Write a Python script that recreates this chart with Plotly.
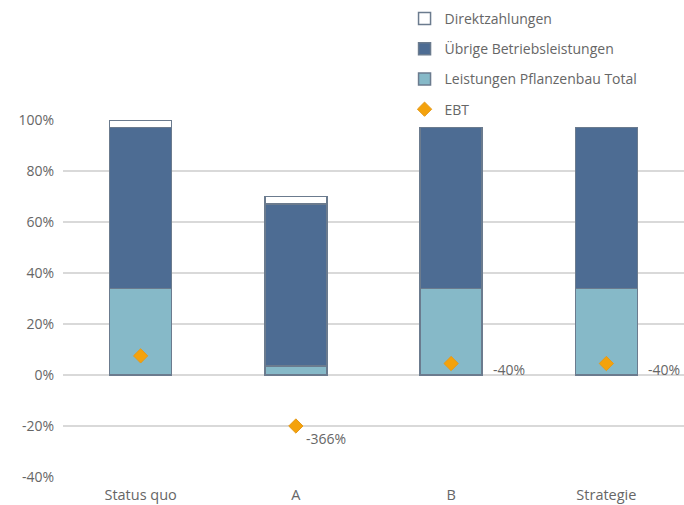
import plotly.graph_objects as go

categories = ["Status quo", "A", "B", "Strategie"]
pflanzenbau = [34, 3.5, 34, 34]
uebrige = [63, 63.5, 63, 63]
direkt = [3, 3, None, None]
ebt = [7.5, -20, 4.5, 4.5]
ebt_labels = ["", "-366%", "-40%", "-40%"]
y_ticks = [-40, -20, 0, 20, 40, 60, 80, 100]
y_ticklabels = [f"{v}%" for v in y_ticks]

FONT = "Open Sans"
GREY = "#666666"
EDGE = "#6b7b8e"

fig = go.Figure()
fig.add_bar(x=categories, y=pflanzenbau, name="Leistungen Pflanzenbau Total",
            marker=dict(color="#86b9c8", line=dict(color=EDGE, width=1.5)),
            legendrank=3, legendgroup="c")
fig.add_bar(x=categories, y=uebrige, name="Übrige Betriebsleistungen",
            marker=dict(color="#4d6c93", line=dict(color=EDGE, width=1.5)),
            legendrank=2, legendgroup="b")
fig.add_bar(x=categories, y=direkt, name="Direktzahlungen",
            marker=dict(color="#ffffff", line=dict(color=EDGE, width=1.5)),
            legendrank=1, legendgroup="a")
fig.add_scatter(x=categories, y=ebt, mode="markers", name="EBT",
                marker=dict(symbol="diamond", color="#f4a20c", size=11,
                            line=dict(color="#e59a1a", width=1)),
                legendrank=4, legendgroup="d")

offsets = {"A": (8, -12), "B": (40, -6), "Strategie": (40, -6)}
for c, v, t in zip(categories, ebt, ebt_labels):
    if t:
        dx, dy = offsets[c]
        fig.add_annotation(x=c, y=v, text=t, showarrow=False, xanchor="left",
                           yanchor="middle", xshift=dx, yshift=dy,
                           font=dict(family=FONT, size=14, color=GREY))

fig.update_layout(
    width=684, height=505,
    margin=dict(l=63, r=0, t=120, b=28),
    barmode="stack", bargap=0.6,
    plot_bgcolor="white", paper_bgcolor="white",
    font=dict(family=FONT, size=14, color=GREY),
    legend=dict(x=0.55, xanchor="left", y=1 + 117 / 357, yanchor="top",
                traceorder="grouped", tracegroupgap=9,
                bgcolor="white", font=dict(family=FONT, size=14, color=GREY)),
    showlegend=True,
)
fig.update_xaxes(showgrid=False, showline=False, ticks="", tickfont=dict(size=14.5),
                 ticklabelstandoff=7)
fig.update_yaxes(range=[-40, 100], tickvals=y_ticks, ticktext=y_ticklabels,
                 showgrid=True, gridcolor="#d9d9d9", gridwidth=1.5,
                 zeroline=True, zerolinecolor="#d9d9d9", zerolinewidth=1.5,
                 ticks="", ticklabelstandoff=8)

fig.write_html("out.html")
